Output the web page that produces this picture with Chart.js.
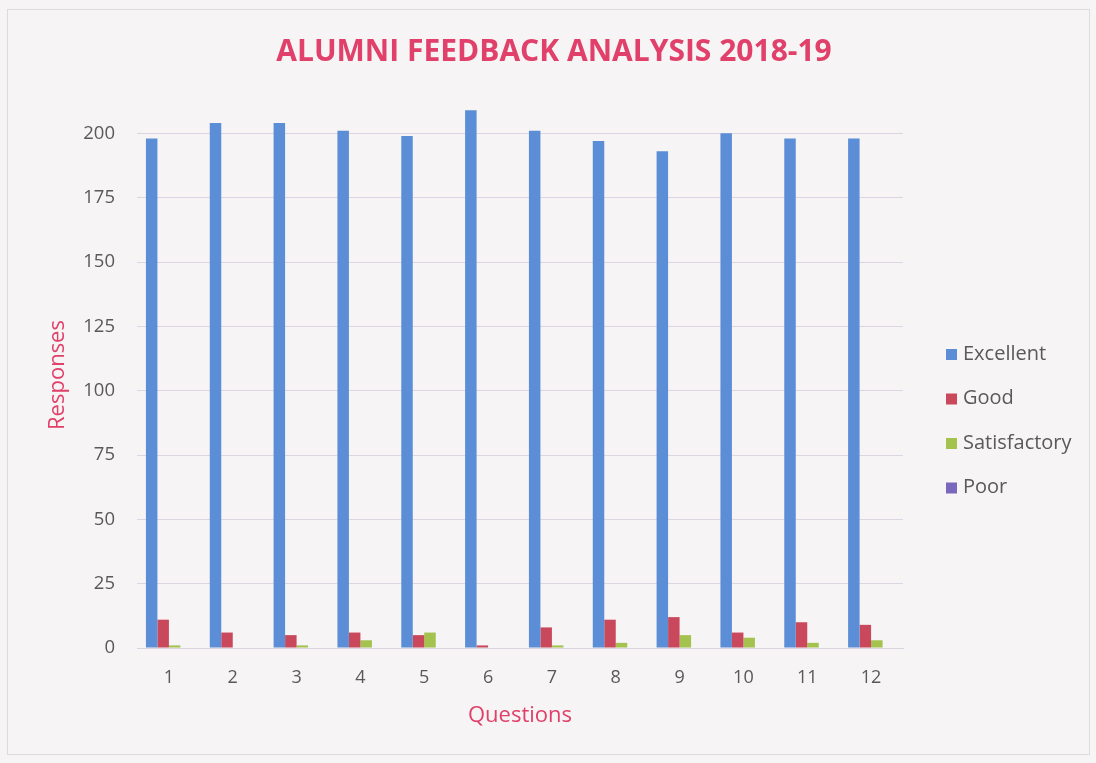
<!DOCTYPE html>
<html>
<head>
<meta charset="utf-8">
<title>Alumni Feedback Analysis 2018-19</title>
<script src="https://cdn.jsdelivr.net/npm/chart.js@4/dist/chart.umd.min.js"></script>
<style>
  html, body { margin: 0; padding: 0; background: #f6f4f4; }
  #wrap { position: relative; width: 1096px; height: 763px; }
</style>
</head>
<body>
<div id="wrap"><canvas id="feedbackChart"></canvas></div>
<script>
// ── data ──
const questions = ['1', '2', '3', '4', '5', '6', '7', '8', '9', '10', '11', '12'];
const excellent = [198, 204, 204, 201, 199, 209, 201, 197, 193, 200, 198, 198];
const good = [11, 6, 5, 6, 5, 1, 8, 11, 12, 6, 10, 9];
const satisfactory = [1, 0, 1, 3, 6, 0, 1, 2, 5, 4, 2, 3];
const poor = [0, 0, 0, 0, 0, 0, 0, 0, 0, 0, 0, 0];
const yTicks = [0, 25, 50, 75, 100, 125, 150, 175, 200];

const TITLE = 'ALUMNI FEEDBACK ANALYSIS 2018-19';
const PINK = '#e0406a';
const TEXT = '#595959';
const FONT = '"Open Sans", Lato, sans-serif';

// background, frame, title, axis titles and legend
const decorPlugin = {
  id: 'decor',
  beforeDraw(chart) {
    const { ctx, width, height } = chart;
    ctx.save();
    ctx.fillStyle = '#f6f4f4';
    ctx.fillRect(0, 0, width, height);
    ctx.strokeStyle = '#dedbdb';
    ctx.lineWidth = 1;
    ctx.strokeRect(7.5, 9.5, width - 14, height - 18);
    ctx.restore();
  },
  afterDraw(chart) {
    const { ctx } = chart;
    ctx.save();
    // title
    ctx.fillStyle = PINK;
    ctx.font = `bold 30px ${FONT}`;
    ctx.textAlign = 'center';
    ctx.textBaseline = 'middle';
    ctx.fillText(TITLE, 554, 52);

    // axis titles
    ctx.font = `22px ${FONT}`;
    ctx.fillText('Questions', 520, 716);
    ctx.translate(58, 375);
    ctx.rotate(-Math.PI / 2);
    ctx.fillText('Responses', 0, 0);
    ctx.setTransform(1, 0, 0, 1, 0, 0);

    // legend
    ctx.font = `20px ${FONT}`;
    ctx.textAlign = 'left';
    chart.data.datasets.forEach((ds, i) => {
      const y = 354 + i * 44.5;
      ctx.fillStyle = ds.backgroundColor;
      ctx.fillRect(946, y - 5, 11, 11);
      ctx.fillStyle = TEXT;
      ctx.fillText(ds.label, 963, y);
    });
    ctx.restore();
  }
};

const ctx = document.getElementById('feedbackChart').getContext('2d');
new Chart(ctx, {
  type: 'bar',
  data: {
    labels: questions,
    datasets: [
      { label: 'Excellent', data: excellent, backgroundColor: '#5b8ed6' },
      { label: 'Good', data: good, backgroundColor: '#c9485b' },
      { label: 'Satisfactory', data: satisfactory, backgroundColor: '#a3c24e' },
      { label: 'Poor', data: poor, backgroundColor: '#7a68bd' }
    ]
  },
  options: {
    responsive: true,
    maintainAspectRatio: false,
    animation: false,
    layout: { padding: { left: 37, right: 193, top: 69, bottom: 0 } },
    datasets: {
      bar: { categoryPercentage: 0.72, barPercentage: 1.0 }
    },
    scales: {
      x: {
        grid: { display: false, drawTicks: false },
        border: { color: '#d9d3e0' },
        ticks: { color: TEXT, font: { family: FONT, size: 18 }, padding: 19 },
        afterFit(scale) { scale.height = 115; }
      },
      y: {
        min: 0,
        max: 225,
        afterBuildTicks(scale) { scale.ticks = yTicks.map(v => ({ value: v })); },
        grid: { color: '#dcd6e4', drawTicks: false },
        border: { display: false },
        ticks: { color: TEXT, font: { family: FONT, size: 18.5 }, padding: 22 },
        afterFit(scale) { scale.width = 100; }
      }
    },
    plugins: {
      legend: { display: false },
      tooltip: { enabled: true }
    }
  },
  plugins: [decorPlugin]
});
</script>
</body>
</html>
